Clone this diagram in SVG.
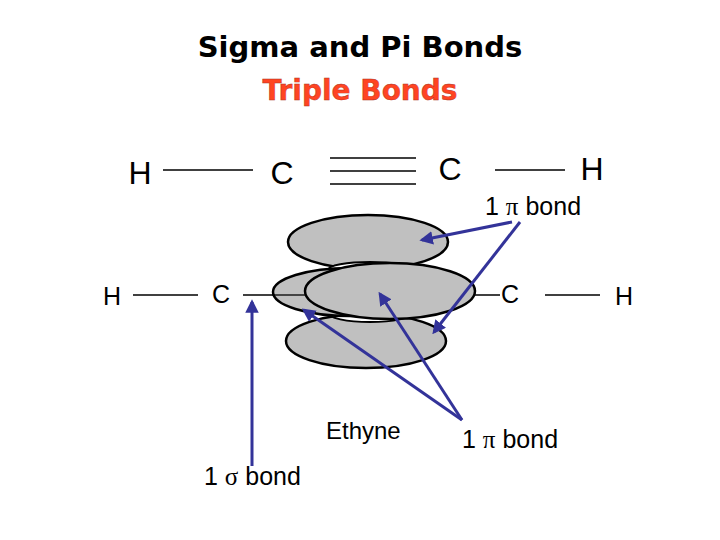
<svg xmlns="http://www.w3.org/2000/svg" width="720" height="540" viewBox="0 0 720 540">
<defs>
<style>
.t{font-family:"Liberation Sans",Arial,sans-serif;fill:#000}
.ln{stroke:#000;stroke-width:1.3}
.lobe{fill:#c0c0c0;stroke:#000;stroke-width:2.5}
.ar{stroke:#333399;stroke-width:3;fill:none;marker-end:url(#ah)}
</style>
<marker id="ah" viewBox="0 0 10 10" refX="8" refY="5" markerWidth="4.5" markerHeight="4.5" orient="auto"><path d="M0,0L10,5L0,10z" fill="#333399"/></marker>
</defs>
<rect width="720" height="540" fill="#fff"/>
<g id="title">
<text x="360" y="57" text-anchor="middle" font-family="'DejaVu Sans',sans-serif" font-weight="bold" font-size="29">Sigma and Pi Bonds</text>
<text x="360" y="100" text-anchor="middle" font-family="'DejaVu Sans',sans-serif" font-weight="bold" font-size="28" fill="#ff4422" stroke="#aa3322" stroke-width="0.4">Triple Bonds</text>
</g>
<g id="formula">
<text class="t" x="140" y="184" font-size="32" text-anchor="middle">H</text>
<line class="ln" x1="163" y1="170" x2="253" y2="170"/>
<text class="t" x="282" y="184" font-size="32" text-anchor="middle">C</text>
<line class="ln" x1="330" y1="158" x2="416" y2="158"/>
<line class="ln" x1="330" y1="171" x2="416" y2="171"/>
<line class="ln" x1="330" y1="184" x2="416" y2="184"/>
<text class="t" x="450" y="180" font-size="32" text-anchor="middle">C</text>
<line class="ln" x1="495" y1="170" x2="565" y2="170"/>
<text class="t" x="592" y="180" font-size="32" text-anchor="middle">H</text>
</g>
<g id="molecule">
<text class="t" x="112" y="305" font-size="25" text-anchor="middle">H</text>
<line class="ln" x1="133" y1="295" x2="198" y2="295"/>
<text class="t" x="221" y="303" font-size="25" text-anchor="middle">C</text>
<line class="ln" x1="243" y1="295" x2="500" y2="295"/>
<text class="t" x="510" y="303" font-size="25" text-anchor="middle">C</text>
<line class="ln" x1="545" y1="295" x2="600" y2="295"/>
<text class="t" x="624" y="305" font-size="25" text-anchor="middle">H</text>
<ellipse class="lobe" cx="366" cy="341" rx="80" ry="27"/>
<ellipse class="lobe" cx="368" cy="242" rx="80" ry="27"/>
<ellipse cx="370" cy="270" rx="42" ry="8" fill="#fff" stroke="#000" stroke-width="2"/>
<ellipse cx="370" cy="313" rx="42" ry="9" fill="#fff" stroke="#000" stroke-width="2"/>
<ellipse class="lobe" cx="350" cy="292" rx="77" ry="24"/>
<line class="ln" x1="273" y1="295" x2="305" y2="295"/>
<ellipse class="lobe" cx="390" cy="291" rx="85" ry="28"/>
</g>
<g id="labels">
<text class="t" x="485" y="215" font-size="25">1 <tspan font-family="'Liberation Serif',serif">π</tspan> bond</text>
<text class="t" x="326" y="439" font-size="24">Ethyne</text>
<text class="t" x="462" y="448" font-size="25">1 <tspan font-family="'Liberation Serif',serif">π</tspan> bond</text>
<text class="t" x="204" y="485" font-size="25">1 <tspan font-family="'Liberation Serif',serif">σ</tspan> bond</text>
</g>
<g id="connectors">
<path class="ar" d="M512,222L422,240"/>
<path class="ar" d="M520,222L434,332"/>
<path class="ar" d="M462,420L304,310"/>
<path class="ar" d="M462,420L380,294"/>
<path class="ar" d="M252,466L252,302"/>
</g>
</svg>
